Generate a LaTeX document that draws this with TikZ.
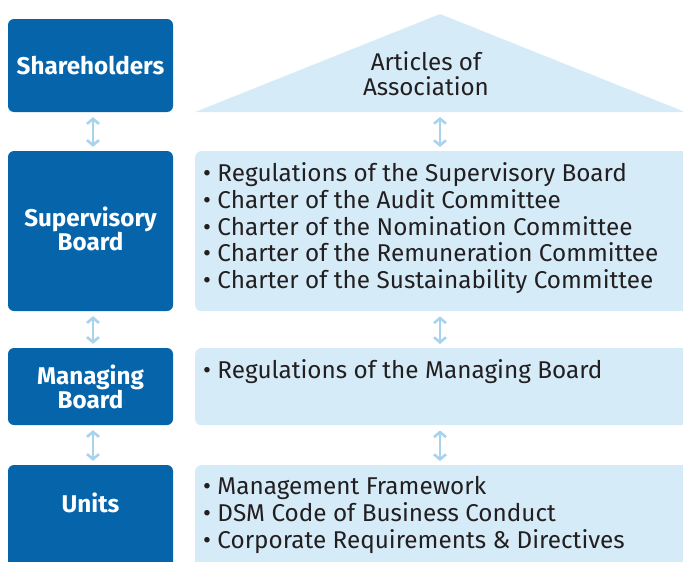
\documentclass[tikz,border=0pt]{standalone}
\usepackage{fontspec}
\setmainfont{Fira Sans}
\usetikzlibrary{arrows.meta}
\definecolor{dkblue}{HTML}{0664AA}
\definecolor{ltblue}{HTML}{D5EBF8}
\definecolor{arrblue}{HTML}{A8D3EC}
\definecolor{txt}{HTML}{231F20}
\begin{document}
\begin{tikzpicture}[x=1pt,y=-1pt,
  darkbox/.style={fill=dkblue, rounded corners=6pt, text=white,
    font=\bfseries\fontsize{24.2}{24}\selectfont, align=center,
    minimum width=165pt, inner sep=0pt},
  lightbox/.style={fill=ltblue, rounded corners=6pt, minimum width=510pt,
    inner sep=0pt, anchor=north west},
  listtext/.style={anchor=north west, align=left, text=txt,
    font=\fontsize{24.3}{26.75}\selectfont, inner sep=0pt},
  link/.style={draw=arrblue, line width=2.6pt,
    {Straight Barb[length=5pt,width=12pt]}-{Straight Barb[length=5pt,width=12pt]},
    shorten <=5pt, shorten >=4pt}
]
\useasboundingbox (0,0) rectangle (683,562);
\clip (0,0) rectangle (683,562);

% left column
\node[darkbox, minimum height=93pt]  (sh) at (90.5,65.5) {Shareholders};
\node[darkbox, minimum height=160pt, text depth=5pt] (sb) at (90.5,231) {Supervisory\\Board};
\node[darkbox, minimum height=77pt]  (mb) at (90.5,386.5) {Managing\\Board};
\node[darkbox, minimum height=110pt, text depth=35pt] (un) at (90.5,520) {Units};

% right column
\fill[ltblue] (195,112) -- (440,14) -- (685,112) -- cycle;
\coordinate (tribase) at (440,112);
\node[text=txt, font=\fontsize{24.2}{25}\selectfont, align=center] (aoa) at (426,74) {Articles of\\Association};

\node[lightbox, minimum height=160pt] (lb2) at (195,151) {};
\node[lightbox, minimum height=77pt]  (lb3) at (195,348) {};
\node[lightbox, minimum height=110pt] (lb4) at (195,465) {};

\node[listtext] (l2) at (203,162.5) {%
• Regulations of the Supervisory Board\\
• Charter of the Audit Committee\\
• Charter of the Nomination Committee\\
• Charter of the Remuneration Committee\\
• Charter of the Sustainability Committee};
\node[listtext] (l3) at (203,359.5) {• Regulations of the Managing Board};
\node[listtext] (l4) at (203,476.5) {%
• Management Framework\\
• DSM Code of Business Conduct\\
• Corporate Requirements \& Directives};

% connectors
\draw[link] ([xshift=2.5pt]sh.south) -- ([xshift=2.5pt]sh.south |- sb.north);
\draw[link] ([xshift=2.5pt]sb.south) -- ([xshift=2.5pt]sb.south |- mb.north);
\draw[link] ([xshift=2.5pt]mb.south) -- ([xshift=2.5pt]mb.south |- un.north);
\draw[link] (tribase) -- ([xshift=245pt]lb2.north west);
\draw[link] ([xshift=245pt]lb2.south west) -- ([xshift=245pt]lb3.north west);
\draw[link] ([xshift=245pt]lb3.south west) -- ([xshift=245pt]lb4.north west);
\end{tikzpicture}
\end{document}
